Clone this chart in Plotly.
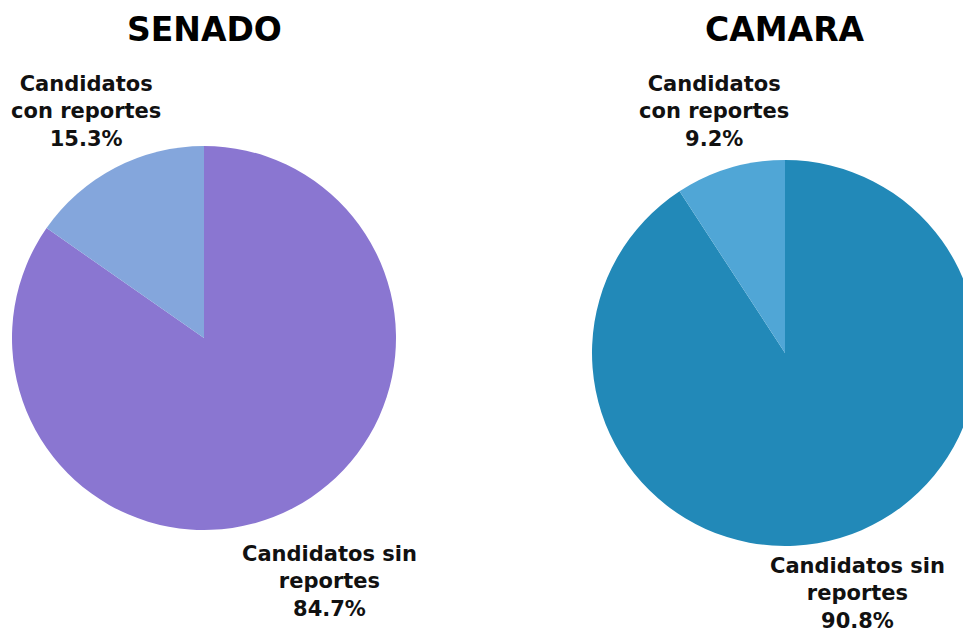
import plotly.graph_objects as go

W, H = 971, 636
OFF = 8  # page body margin offset

chambers = ["SENADO", "CAMARA"]
labels = ["Candidatos con reportes", "Candidatos sin reportes"]
label_lines = ["Candidatos<br>con reportes", "Candidatos sin<br>reportes"]
senado_pct = [15.3, 84.7]
camara_pct = [9.2, 90.8]
senado_colors = ["#84A6DC", "#8A76D1"]
camara_colors = ["#50A6D6", "#2289B8"]

FONT = "DejaVu Sans"

def px_dom_x(a, b):
    return [max(0, (a - OFF) / W), min(1, (b - OFF) / W)]

def px_dom_y(top, bottom):
    return [max(0, (H - (bottom - OFF)) / H), min(1, (H - (top - OFF)) / H)]

def px_x(x):
    return (x - OFF) / W

def px_y(y):
    return (H - (y - OFF)) / H

fig = go.Figure()
fig.add_trace(go.Pie(
    labels=labels[::-1], values=senado_pct[::-1], sort=False, direction="clockwise",
    rotation=0, marker=dict(colors=senado_colors[::-1]), textinfo="none",
    hoverinfo="label+percent", showlegend=False,
    domain=dict(x=px_dom_x(12, 396), y=px_dom_y(146, 530)),
))
fig.add_trace(go.Pie(
    labels=labels[::-1], values=camara_pct[::-1], sort=False, direction="clockwise",
    rotation=0, marker=dict(colors=camara_colors[::-1]), textinfo="none",
    hoverinfo="label+percent", showlegend=False,
    domain=dict(x=px_dom_x(592, 978), y=px_dom_y(160, 546)),
))

annotations = []
for name, cx in zip(chambers, [204, 785]):
    annotations.append(dict(
        text="<b>%s</b>" % name, x=px_x(cx), y=px_y(29), xref="paper", yref="paper",
        showarrow=False, xanchor="center", yanchor="middle",
        font=dict(family=FONT, size=33, color="#000000"),
    ))

label_pos = [
    (senado_pct, [(86, 112), (329, 581)]),
    (camara_pct, [(714, 112), (857, 593)]),
]
for pcts, positions in label_pos:
    for i, (cx, cy) in enumerate(positions):
        annotations.append(dict(
            text="<b>%s<br>%.1f%%</b>" % (label_lines[i], pcts[i]),
            x=px_x(cx), y=px_y(cy), xref="paper", yref="paper",
            showarrow=False, xanchor="center", yanchor="middle", align="center",
            font=dict(family=FONT, size=21, color="#111111"),
        ))

fig.update_layout(
    width=W, height=H, margin=dict(l=0, r=0, t=0, b=0),
    paper_bgcolor="white", plot_bgcolor="white",
    annotations=annotations,
)
fig.write_html("out.html")
